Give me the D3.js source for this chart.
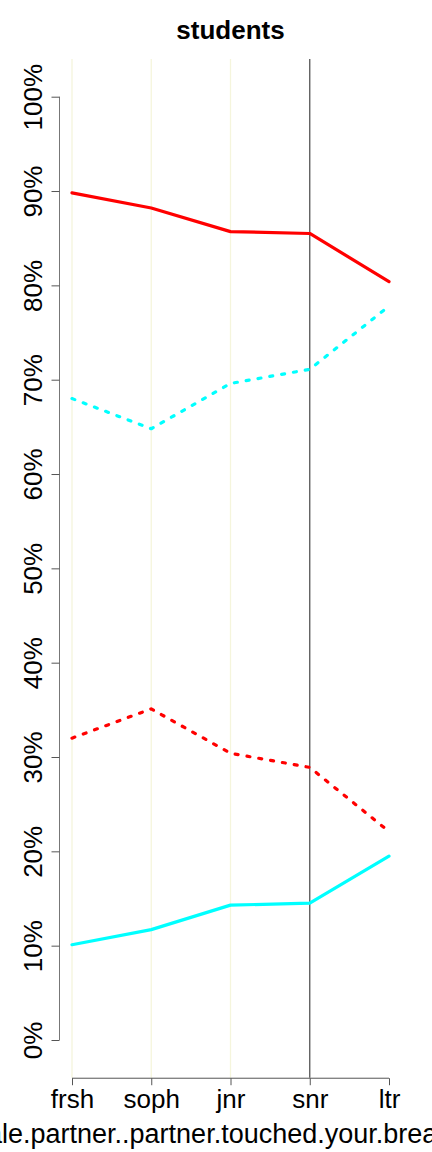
<!DOCTYPE html>
<html>
<head>
<meta charset="utf-8">
<script src="https://cdn.jsdelivr.net/npm/d3@7"></script>
<style>
  body { margin: 0; background: #fff; }
  text { font-family: "Liberation Sans", Arial, sans-serif; }
</style>
</head>
<body>
<div id="chart"></div>
<script>
// data (percent)
var categories = ["frsh", "soph", "jnr", "snr", "ltr"];
var redSolid = [89.8, 88.2, 85.7, 85.5, 80.4];
var cyanDashed = [68.0, 64.8, 69.6, 71.1, 77.8];
var redDashed = [32.0, 35.1, 30.4, 28.9, 22.1];
var cyanSolid = [10.1, 11.7, 14.3, 14.5, 19.5];
var yTicks = [0, 10, 20, 30, 40, 50, 60, 70, 80, 90, 100];

var series = [
    { values: redSolid, color: "#ff0000", dash: null },
    { values: cyanDashed, color: "#00ffff", dash: "3,9" },
    { values: redDashed, color: "#ff0000", dash: "3,9" },
    { values: cyanSolid, color: "#00ffff", dash: null }
];

var width = 432;
var height = 1152;

var x = d3.scalePoint()
    .domain(categories)
    .range([72, 389]);

var y = d3.scaleLinear()
    .domain([0, 100])
    .range([1040, 96.7]);

var svg = d3.select("#chart")
    .append("svg")
    .attr("width", width)
    .attr("height", height);

// title
svg.append("text")
    .attr("x", 230.5)
    .attr("y", 39)
    .attr("text-anchor", "middle")
    .style("font-size", "26px")
    .style("font-weight", "bold")
    .text("students");

// vertical guide lines
var plotTop = y(104);
var plotBottom = y(-4);
svg.selectAll(".vline")
    .data(categories.slice(0, 4))
    .enter()
    .append("line")
    .attr("class", "vline")
    .attr("x1", function (d) { return x(d); })
    .attr("x2", function (d) { return x(d); })
    .attr("y1", plotTop)
    .attr("y2", plotBottom)
    .attr("stroke", function (d) { return d === "snr" ? "#555555" : "#f5f5dc"; })
    .attr("stroke-width", 1.3);

// y axis
var yAxis = d3.axisLeft(y)
    .tickValues(yTicks)
    .tickSize(8)
    .tickPadding(0)
    .tickFormat(function (d) { return d + "%"; });

var gy = svg.append("g")
    .attr("transform", "translate(59.5,0)")
    .call(yAxis);
gy.select(".domain").attr("stroke", "#777").attr("d", "M0," + y(0) + "V" + y(100));
gy.selectAll(".tick line").attr("stroke", "#555");
gy.selectAll(".tick text")
    .attr("x", 0)
    .attr("y", 0)
    .attr("dy", 0)
    .attr("transform", "translate(-17.5,0) rotate(-90)")
    .attr("text-anchor", "middle")
    .style("font-size", "26px")
    .style("font-family", "Liberation Sans, Arial, sans-serif")
    .attr("fill", "#000");

// x axis
var xAxis = d3.axisBottom(x)
    .tickSize(7)
    .tickPadding(4);

var gx = svg.append("g")
    .attr("transform", "translate(0," + (plotBottom + 0.5) + ")")
    .call(xAxis);
gx.select(".domain").attr("stroke", "#555").attr("d", "M" + x("frsh") + ",0H" + x("ltr"));
gx.selectAll(".tick line").attr("stroke", "#555");
gx.selectAll(".tick text")
    .style("font-size", "26px")
    .style("font-family", "Liberation Sans, Arial, sans-serif")
    .attr("fill", "#000");

// x axis title (clipped by the page edges, like the original)
var xTitle = svg.append("text")
    .attr("y", 1143)
    .attr("text-anchor", "start")
    .style("font-size", "27px")
    .text("ma");
var prefixW = xTitle.node().getComputedTextLength();
xTitle.text("male.partner..partner.touched.your.breast")
    .attr("x", 2 - prefixW);

// lines
var line = d3.line()
    .x(function (d, i) { return x(categories[i]); })
    .y(function (d) { return y(d); });

svg.selectAll(".series")
    .data(series)
    .enter()
    .append("path")
    .attr("class", "series")
    .attr("d", function (d) { return line(d.values); })
    .attr("fill", "none")
    .attr("stroke", function (d) { return d.color; })
    .attr("stroke-width", 3.2)
    .attr("stroke-linecap", "round")
    .attr("stroke-linejoin", "round")
    .attr("stroke-dasharray", function (d) { return d.dash; });
</script>
</body>
</html>
